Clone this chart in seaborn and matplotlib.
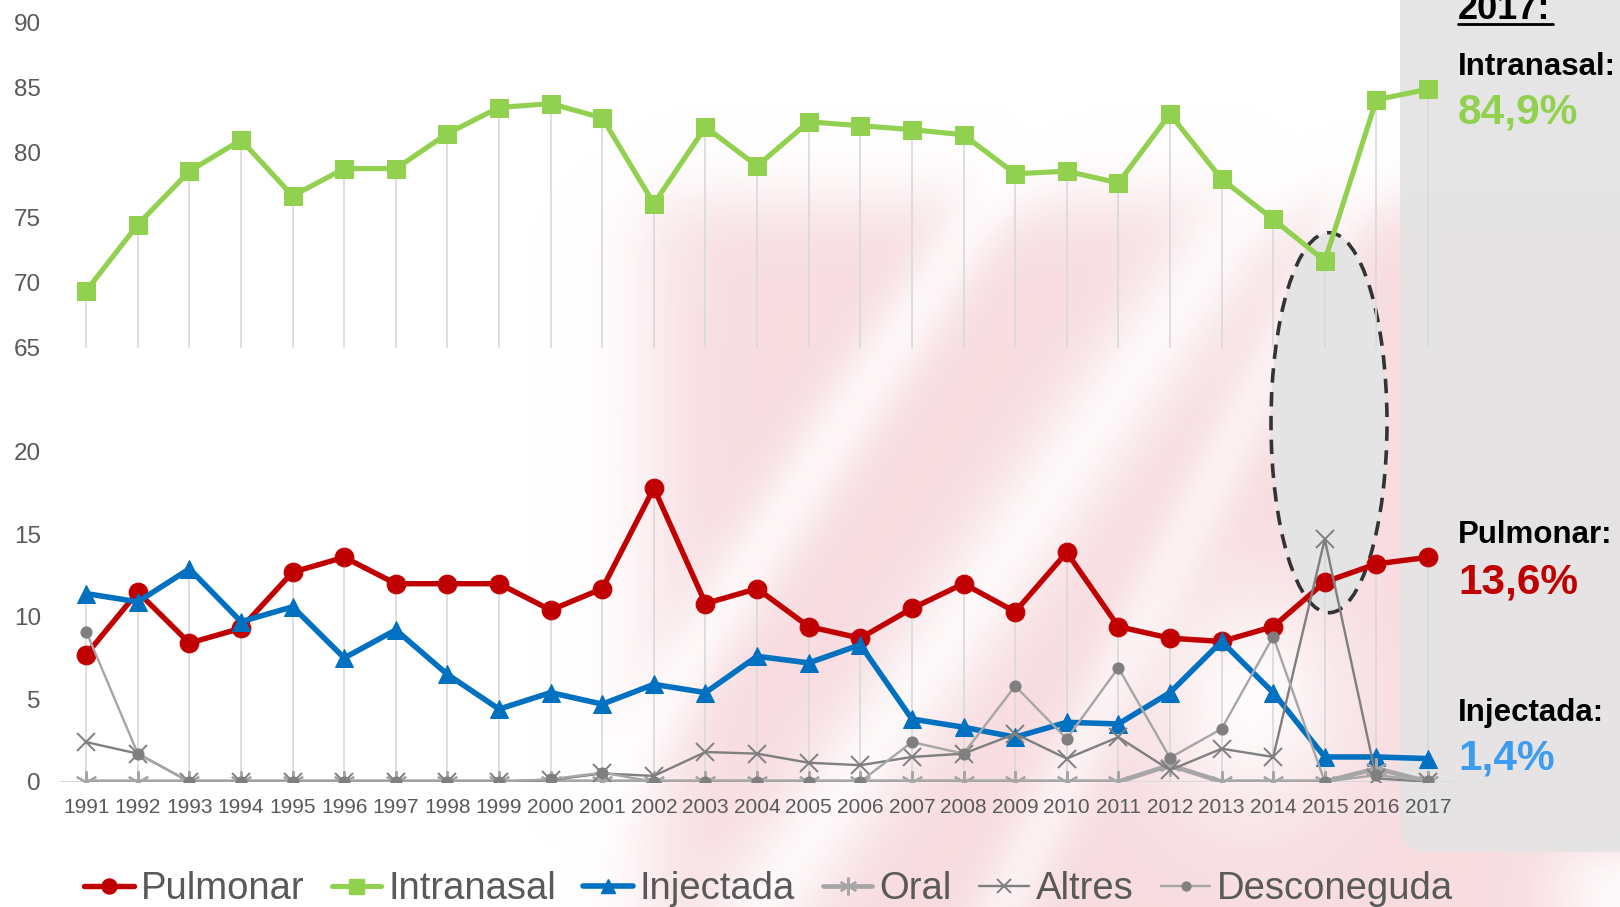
import numpy as np
import pandas as pd
import matplotlib
matplotlib.use("Agg")
import matplotlib.pyplot as plt
import seaborn as sns
from matplotlib.lines import Line2D
from matplotlib.patches import Ellipse, FancyBboxPatch
from matplotlib.transforms import IdentityTransform

# data (% per route of administration)
years = list(range(1991, 2018))
pulmonar = [7.7, 11.5, 8.4, 9.3, 12.7, 13.6, 12.0, 12.0, 12.0, 10.4, 11.7, 17.8, 10.8, 11.7,
            9.4, 8.7, 10.5, 12.0, 10.3, 13.9, 9.4, 8.7, 8.5, 9.4, 12.1, 13.2, 13.6]
intranasal = [69.4, 74.5, 78.6, 81.0, 76.7, 78.8, 78.8, 81.5, 83.5, 83.8, 82.7, 76.1, 82.0, 79.0,
              82.4, 82.1, 81.8, 81.4, 78.4, 78.6, 77.7, 83.0, 78.0, 74.9, 71.7, 84.1, 84.9]
injectada = [11.4, 10.9, 12.9, 9.7, 10.6, 7.5, 9.2, 6.5, 4.4, 5.4, 4.7, 5.9, 5.4, 7.6,
             7.2, 8.3, 3.8, 3.3, 2.7, 3.6, 3.5, 5.4, 8.5, 5.4, 1.5, 1.5, 1.4]
oral = [0, 0, 0, 0, 0, 0, 0, 0, 0, 0, 0, 0, 0, 0,
        0, 0, 0, 0, 0, 0, 0, 1.0, 0, 0, 0, 0.8, 0]
altres = [2.4, 1.7, 0, 0, 0, 0, 0, 0, 0, 0.1, 0.5, 0.35, 1.8, 1.7,
          1.15, 1.0, 1.5, 1.7, 2.9, 1.4, 2.7, 0.7, 2.0, 1.5, 14.7, 0.2, 0.0]
desconeguda = [9.1, 1.7, 0, 0, 0, 0, 0, 0, 0, 0.15, 0.55, 0.0, 0, 0,
               0, 0, 2.4, 1.7, 5.8, 2.6, 6.9, 1.45, 3.2, 8.8, 0.0, 0.4, 0.05]

labels_2017 = ["Intranasal:", "Pulmonar:", "Injectada:"]
values_2017 = ["84,9%", "13,6%", "1,4%"]

df = pd.DataFrame({"year": years, "Pulmonar": pulmonar, "Intranasal": intranasal,
                   "Injectada": injectada, "Oral": oral, "Altres": altres,
                   "Desconeguda": desconeguda})

sns.set_style("white")
plt.rcParams["font.family"] = ["Liberation Sans", "DejaVu Sans"]

W, H = 1620, 907
fig = plt.figure(figsize=(W / 100, H / 100), dpi=100)

# faded pink watermark in the background
bg = fig.add_axes([0, 0, 1, 1], zorder=-5)
gx, gy = np.meshgrid(np.arange(0, W, 4), np.arange(0, H, 4))
sig = lambda t: 1 / (1 + np.exp(-t))
pink = sig((gx - 650) / 25) * sig((gy - 200) / 20)
def band(x0, y0, x1, y1, w):
    dx, dy = x1 - x0, y1 - y0
    d = np.abs(dy * (gx - x0) - dx * (gy - y0)) / np.hypot(dx, dy)
    return np.exp(-(d / w) ** 2)
pink *= 1 - 0.75 * band(700, 640, 960, 240, 35)
pink *= 1 - 0.8 * band(760, 907, 1160, 330, 50)
pink *= 1 - 0.6 * band(1000, 907, 1300, 300, 30)
pink *= 1 - 0.9 * np.exp(-(((gx - 1250) / 90) ** 2 + ((gy - 700) / 110) ** 2))
pink *= 1 - 0.9 * sig((gx - 1560) / 20) * sig((gy - 850) / 10)
rgba = np.zeros(gx.shape + (4,))
rgba[..., 0], rgba[..., 1], rgba[..., 2] = 0.95, 0.78, 0.80
rgba[..., 3] = 0.6 * pink
bg.imshow(rgba, extent=[0, W, H, 0], aspect="auto", interpolation="bilinear")
bg.set_xlim(0, W)
bg.set_ylim(H, 0)
bg.axis("off")

# grey side panel and dashed ellipse highlighting 2015
panel = FancyBboxPatch((1400, 907 - 852), 400, 1000, boxstyle="round,pad=0,rounding_size=30",
                       transform=IdentityTransform(), facecolor="#e4e4e4", edgecolor="none",
                       alpha=0.93, zorder=-4)
fig.patches.append(panel)
ell = Ellipse((1329 / W, 1 - 422.7 / H), 116 / W, 380 / H, transform=fig.transFigure,
              facecolor="#e4e4e4", edgecolor="#333333", linewidth=2.6, linestyle=(0, (4, 2.6)),
              zorder=-3)
fig.patches.append(ell)

x0, x1 = 60.4 / W, 1453.8 / W
ax_top = fig.add_axes([x0, 1 - 348 / H, x1 - x0, (348 - 23) / H])
ax_bot = fig.add_axes([x0, 1 - 781.7 / H, x1 - x0, (781.7 - 451.7) / H])

styles = {
    "Pulmonar": dict(color="#C00000", marker="o", markersize=13.5, linewidth=3.9,
                     markeredgecolor="#C00000"),
    "Intranasal": dict(color="#92D050", marker="s", markersize=13.5, linewidth=3.7,
                       markeredgecolor="#92D050"),
    "Injectada": dict(color="#0070C0", marker="^", markersize=12.5, linewidth=4.0,
                      markeredgecolor="#0070C0"),
    "Oral": dict(color="#A6A6A6", marker=(6, 2, 0), markersize=16, linewidth=3.4,
                 markeredgewidth=1.5, markeredgecolor="#A6A6A6"),
    "Altres": dict(color="#7F7F7F", marker="x", markersize=12.5, linewidth=1.7,
                   markeredgewidth=1.4, markeredgecolor="#7F7F7F"),
    "Desconeguda": dict(color="#A6A6A6", marker="o", markersize=8, linewidth=1.7,
                        markerfacecolor="#7F7F7F", markeredgecolor="#7F7F7F"),
}

for ax in (ax_top, ax_bot):
    ax.set_facecolor("none")
    ax.set_xlim(1990.5, 2017.5)
    sns.despine(ax=ax, left=True, bottom=True)
    ax.tick_params(axis="both", length=0, colors="#595959")

# drop lines
ax_top.vlines(years, 65, intranasal, color="#d9d9d9", linewidth=1.2, zorder=1)
bot_max = df[["Pulmonar", "Injectada", "Oral", "Altres", "Desconeguda"]].max(axis=1)
ax_bot.vlines(years, 0, bot_max, color="#d9d9d9", linewidth=1.2, zorder=1)
ax_bot.axhline(0, color="#d9d9d9", linewidth=1.5, zorder=1)

sns.lineplot(data=df, x="year", y="Intranasal", ax=ax_top, **styles["Intranasal"], zorder=3)
for i, name in enumerate(["Pulmonar", "Injectada", "Oral", "Altres", "Desconeguda"]):
    sns.lineplot(data=df, x="year", y=name, ax=ax_bot, **styles[name], zorder=3 + i)

ax_top.set_ylim(65, 90)
ax_top.set_yticks([65, 70, 75, 80, 85, 90])
ax_top.set_xticks([])
ax_bot.set_ylim(0, 20)
ax_bot.set_yticks([0, 5, 10, 15, 20])
ax_bot.set_xticks(years)
ax_bot.set_xticklabels([str(y) for y in years], fontsize=15)
for ax in (ax_top, ax_bot):
    ax.set_xlabel("")
    ax.set_ylabel("")
    ax.tick_params(axis="y", labelsize=17.5, pad=14)
ax_bot.tick_params(axis="x", pad=12)

# legend
handles = [Line2D([], [], **{k: v for k, v in styles[n].items() if k != "markersize"},
                  markersize=styles[n]["markersize"] * 0.8) for n in styles]
leg = fig.legend(handles, list(styles), loc="center", bbox_to_anchor=(0.4745, 1 - 889 / H),
                 ncol=6, frameon=False, fontsize=27.5, handlelength=1.3, handletextpad=0.18,
                 columnspacing=0.72, borderaxespad=0)
for t in leg.get_texts():
    t.set_color("#595959")

# 2017 summary text
tx = 1458 / W
fig.text(tx, 1 - 19 / H, "2017:", fontsize=26, fontweight="bold", va="baseline", color="black")
fig.add_artist(Line2D([tx, 1553 / W], [1 - 24 / H, 1 - 24 / H], color="black", linewidth=2,
                      transform=fig.transFigure))
colors_2017 = ["#92D050", "#C00000", "#3C9CF0"]
ys_label = [67, 535, 713]
ys_value = [112, 582, 759]
for lab, val, col, yl, yv in zip(labels_2017, values_2017, colors_2017, ys_label, ys_value):
    fig.text(tx, 1 - yl / H, lab, fontsize=22.5, fontweight="bold", va="center", color="black")
    fig.text(tx, 1 - yv / H, val, fontsize=30.5, fontweight="bold", va="center", color=col)

fig.savefig("out.png", dpi=100)
